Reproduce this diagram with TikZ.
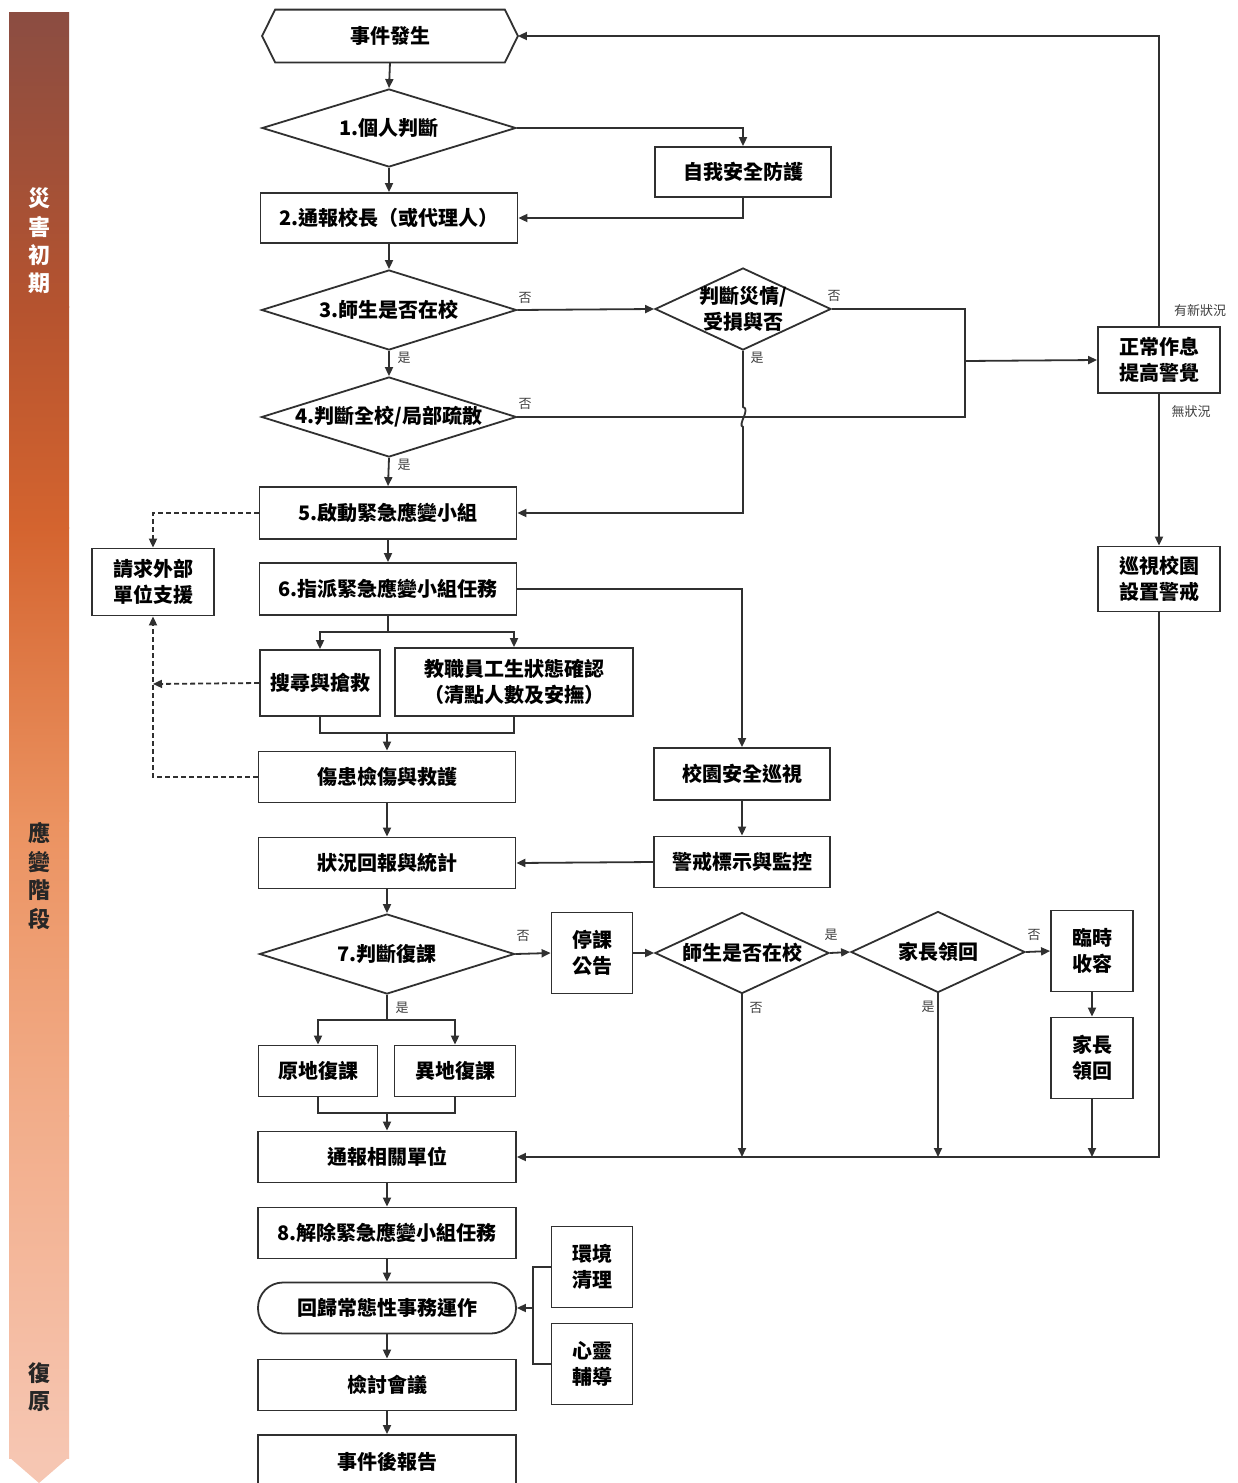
\documentclass[tikz,border=0pt]{standalone}
\usepackage{fontspec}
\setmainfont{Noto Sans CJK TC}
\usetikzlibrary{arrows.meta,shapes.geometric}
\definecolor{lc}{HTML}{303030}
\definecolor{labc}{HTML}{404040}
\definecolor{sbA}{HTML}{F6C6B2}
\definecolor{sbB}{HTML}{F2AD8A}
\definecolor{sbC}{HTML}{EB9260}
\definecolor{sbD}{HTML}{D4642F}
\definecolor{sbE}{HTML}{B5532F}
\definecolor{sbF}{HTML}{8B4D42}
\tikzset{
  box/.style={draw=lc, line width=0.9pt, rectangle, inner sep=0pt, align=center, fill=white,
    font=\bfseries\fontsize{10}{13}\selectfont},
  dia/.style={draw=lc, line width=0.9pt, diamond, inner sep=-3pt, align=center, fill=white,
    font=\bfseries\fontsize{10}{13}\selectfont},
  ln/.style={draw=lc, line width=0.9pt},
  arr/.style={ln, -{Triangle[length=4.5pt,width=4pt]}},
  dsh/.style={ln, dash pattern=on 2.5pt off 1.5pt},
  darr/.style={dsh, -{Triangle[length=4.5pt,width=4pt]}},
  lab/.style={font=\fontsize{6.5}{7}\selectfont, text=labc, inner sep=0pt},
  side/.style={font=\bfseries\fontsize{11}{14.2}\selectfont, align=center, inner sep=0pt}
}
\begin{document}
\begin{tikzpicture}[x=0.5pt,y=-0.5pt]
\fill[white] (0,0) rectangle (1237,1483);
\clip (0,0) rectangle (1237,1483);

% side bar (gradient in segments)
\shade[top color=sbF, bottom color=sbE] (9,12) rectangle (69,307);
\shade[top color=sbE, bottom color=sbD] (9,306) rectangle (69,528);
\shade[top color=sbD, bottom color=sbC] (9,527) rectangle (69,821);
\shade[top color=sbC, bottom color=sbB] (9,820) rectangle (69,1116);
\shade[top color=sbB, bottom color=sbA] (9,1115) rectangle (69,1458);
\fill[sbA] (9,1457) -- (69,1457) -- (39,1483) -- cycle;
\node[side, text=white] (ph1) at (39,241) {災\\害\\初\\期};
\node[side, text=black!85] (ph2) at (39,876) {應\\變\\階\\段};
\node[side, text=black!85] (ph3) at (39,1387) {復\\原};

% nodes
\node[minimum width=127.5pt, minimum height=26pt, inner sep=0pt] (start) at (390,36) {};
\draw[lc, line width=0.9pt, fill=white] (start.west) -- ([xshift=6.5pt]start.north west) -- ([xshift=-6.5pt]start.north east) -- (start.east) -- ([xshift=-6.5pt]start.south east) -- ([xshift=6.5pt]start.south west) -- cycle;
\node[font=\bfseries\fontsize{10}{13}\selectfont] (starttext) at (start) {事件發生};

\node[dia, shape aspect=3.2, minimum width=127pt, minimum height=39pt] (d1) at (389,128) {1.個人判斷};
\node[box, minimum width=88pt, minimum height=25pt] (self) at (743,172) {自我安全防護};
\node[box, minimum width=128.5pt, minimum height=25pt] (s2) at (389,218) {2.通報校長（或代理人）};
\node[dia, shape aspect=3.2, minimum width=127.5pt, minimum height=40pt] (d3) at (389,310) {3.師生是否在校};
\node[dia, shape aspect=2.15, minimum width=88pt, minimum height=41pt] (djud) at (743,309) {判斷災情/\\受損與否};
\node[dia, shape aspect=3.2, minimum width=127.5pt, minimum height=40pt, inner xsep=-6pt] (d4) at (389,417) {4.判斷全校/局部疏散};
\node[box, minimum width=61pt, minimum height=33pt] (normal) at (1159,360) {正常作息\\提高警覺};
\node[box, minimum width=61pt, minimum height=32.5pt] (patrol) at (1159,579) {巡視校園\\設置警戒};
\node[box, minimum width=128.5pt, minimum height=26pt] (s5) at (388,513) {5.啟動緊急應變小組};
\node[box, minimum width=61pt, minimum height=33.5pt] (ext) at (153,582) {請求外部\\單位支援};
\node[box, minimum width=128.5pt, minimum height=26pt] (s6) at (388,589) {6.指派緊急應變小組任務};
\node[box, minimum width=60pt, minimum height=33pt] (search) at (320,683) {搜尋與搶救};
\node[box, minimum width=119pt, minimum height=34pt] (staff) at (514,682) {教職員工生狀態確認\\（清點人數及安撫）};
\node[box, minimum width=128.5pt, minimum height=25.5pt] (injury) at (387,777) {傷患檢傷與救護};
\node[box, minimum width=88pt, minimum height=26pt] (campus) at (742,774) {校園安全巡視};
\node[box, minimum width=88pt, minimum height=25.5pt] (warn) at (742,862) {警戒標示與監控};
\node[box, minimum width=128.5pt, minimum height=25.5pt] (report) at (387,863) {狀況回報與統計};
\node[dia, shape aspect=3.2, minimum width=127.5pt, minimum height=40pt] (d7) at (387,954) {7.判斷復課};
\node[box, minimum width=40.5pt, minimum height=40.5pt] (stop) at (592,953) {停課\\公告};
\node[dia, shape aspect=2.15, minimum width=87pt, minimum height=40.5pt] (d8) at (742,953) {師生是否在校};
\node[dia, shape aspect=2.15, minimum width=87pt, minimum height=40.5pt] (d9) at (938,952) {家長領回};
\node[box, minimum width=41pt, minimum height=40.5pt] (shelter) at (1092,951) {臨時\\收容};
\node[box, minimum width=41pt, minimum height=40.5pt] (pickup) at (1092,1058) {家長\\領回};
\node[box, minimum width=59.5pt, minimum height=25.5pt] (orig) at (318,1071) {原地復課};
\node[box, minimum width=60.5pt, minimum height=25.5pt] (alt) at (455,1071) {異地復課};
\node[box, minimum width=129pt, minimum height=25.5pt] (notify) at (387,1157) {通報相關單位};
\node[box, minimum width=129pt, minimum height=25.5pt] (s8) at (387,1233) {8.解除緊急應變小組任務};
\node[box, rounded corners=12.5pt, minimum width=129pt, minimum height=25.5pt] (back) at (387,1308) {回歸常態性事務運作};
\node[box, minimum width=40.5pt, minimum height=40.5pt] (clean) at (592,1267) {環境\\清理};
\node[box, minimum width=40.5pt, minimum height=40.5pt] (mind) at (592,1364) {心靈\\輔導};
\node[box, minimum width=129pt, minimum height=25.5pt] (review) at (387,1385) {檢討會議};
\node[box, minimum width=129pt, minimum height=27pt] (final) at (387,1462) {事件後報告};

% connectors
\draw[arr] (start.south) -- (d1.north);
\draw[arr] (d1.east) -| (self.north);
\draw[arr] (d1.south) -- (s2.north);
\draw[arr] (self.south) |- (s2.east);
\draw[arr] (s2.south) -- (d3.north);
\draw[arr] (d3.east) -- (djud.west);
\draw[arr] (d3.south) -- (d4.north);
\draw[arr] (d4.south) -- (s5.north);
\coordinate (jn) at (965,361);
\draw[ln] (djud.east) -| (jn);
\draw[ln] (d4.east) -| (jn);
\draw[arr] (jn) -- (normal.west);
\draw[arr] (djud.south) -- (743,407) .. controls (751,409) and (737,425) .. (743,427) |- (s5.east);
\draw[arr] (normal.north) |- (start.east);
\draw[arr] (normal.south) -- (patrol.north);
\draw[arr] (patrol.south) |- (notify.east);

\draw[darr] (s5.west) -| (ext.north);
\draw[arr] (s5.south) -- (s6.north);
\draw[arr] (s6.east) -| (campus.north);
\coordinate (sp6) at (388,632);
\draw[ln] (s6.south) -- (sp6);
\draw[arr] (sp6) -| (search.north);
\draw[arr] (sp6) -| (staff.north);
\coordinate (jn6) at (387,733);
\draw[ln] (search.south) |- (jn6);
\draw[ln] (staff.south) |- (jn6);
\draw[arr] (jn6) -- (injury.north);
\coordinate (dl) at (153,684);
\draw[darr] (search.west) -- (dl);
\draw[darr] (injury.west) -| (ext.south);
\draw[arr] (injury.south) -- (report.north);
\draw[arr] (campus.south) -- (warn.north);
\draw[arr] (warn.west) -- (report.east);
\draw[arr] (report.south) -- (d7.north);

\draw[arr] (d7.east) -- (stop.west);
\draw[arr] (stop.east) -- (d8.west);
\draw[arr] (d8.east) -- (d9.west);
\draw[arr] (d9.east) -- (shelter.west);
\draw[arr] (shelter.south) -- (pickup.north);
\draw[arr] (pickup.south) -- (pickup.south |- notify.east);
\draw[arr] (d8.south) -- (d8.south |- notify.east);
\draw[arr] (d9.south) -- (d9.south |- notify.east);

\coordinate (sp7) at (387,1020);
\draw[ln] (d7.south) -- (sp7);
\draw[arr] (sp7) -| (orig.north);
\draw[arr] (sp7) -| (alt.north);
\coordinate (jn7) at (387,1113);
\draw[ln] (orig.south) |- (jn7);
\draw[ln] (alt.south) |- (jn7);
\draw[arr] (jn7) -- (notify.north);
\draw[arr] (notify.south) -- (s8.north);
\draw[arr] (s8.south) -- (back.north);
\draw[arr] (back.south) -- (review.north);
\draw[arr] (review.south) -- (final.north);
\coordinate (jb) at (533,1308);
\draw[ln] (clean.west) -| (jb);
\draw[ln] (mind.west) -| (jb);
\draw[arr] (jb) -- (back.east);

% labels
\node[lab] (l1) at (525,298) {否};
\node[lab] (l2) at (404,358) {是};
\node[lab] (l3) at (834,296) {否};
\node[lab] (l4) at (757,358) {是};
\node[lab] (l5) at (525,404) {否};
\node[lab] (l6) at (404,465) {是};
\node[lab] (l7) at (1200,311) {有新狀況};
\node[lab] (l8) at (1191,412) {無狀況};
\node[lab] (l9) at (523,936) {否};
\node[lab] (l10) at (831,935) {是};
\node[lab] (l11) at (1034,935) {否};
\node[lab] (l12) at (756,1008) {否};
\node[lab] (l13) at (928,1007) {是};
\node[lab] (l14) at (402,1008) {是};
\end{tikzpicture}
\end{document}
